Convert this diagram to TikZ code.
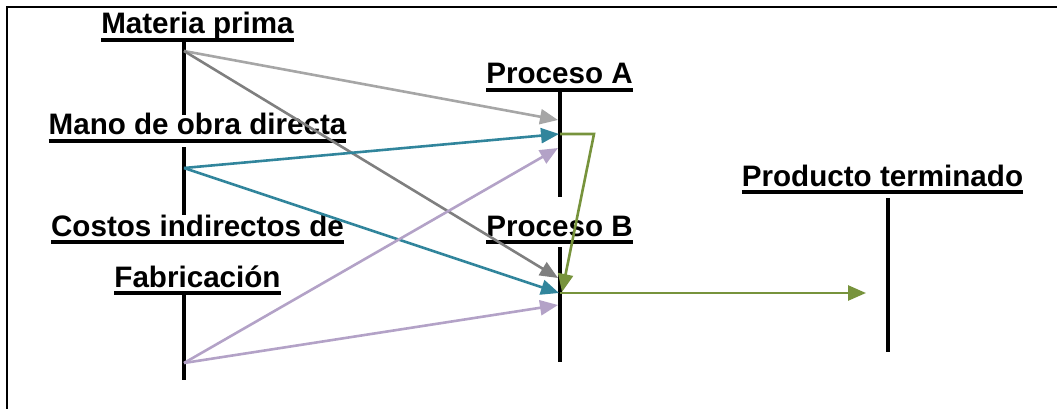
\documentclass[tikz,border=0pt]{standalone}
\usepackage{fontspec}
\setmainfont{Liberation Sans}
\usetikzlibrary{arrows.meta}
\definecolor{lgray}{HTML}{A6A6A6}
\definecolor{dgray}{HTML}{7F7F7F}
\definecolor{teal2}{HTML}{31859C}
\definecolor{lilac}{HTML}{B3A2C7}
\definecolor{olive2}{HTML}{77933C}
\begin{document}
\begin{tikzpicture}[x=1pt,y=-1pt,
  acct/.style={anchor=base,inner sep=0pt,outer sep=0pt,font=\fontsize{29.6}{31}\selectfont\bfseries},
  uline/.style={line width=3.8pt},
  tbar/.style={line width=4pt},
  conn/.style={line width=2.6pt,-{Triangle[length=18pt,width=15pt]}},
  frame/.style={line width=2.8pt}]
\useasboundingbox (0,0) rectangle (1057,409);
% frame
\draw[frame] (7,409) -- (7,7) -- (1057,7);
% account titles
\node[acct] (mp) at (197.5,34) {Materia prima};
\node[acct] (mod) at (197.5,135) {Mano de obra directa};
\node[acct] (cif1) at (197.5,236) {Costos indirectos de};
\node[acct] (cif) at (197.5,287) {Fabricación};
\node[acct] (pa) at (559.5,84) {Proceso A};
\node[acct] (pb) at (559.5,236) {Proceso B};
\node[acct] (pt) at (882.5,186) {Producto terminado};
% underlines
\foreach \n in {mp,mod,cif1,cif,pa,pb,pt}
  \draw[uline] ([yshift=-6pt]\n.base west) -- ([yshift=-6pt]\n.base east);
% T-account bars
\coordinate (mpT) at (184,40);  \coordinate (mpB) at (184,115);
\coordinate (modT) at (184,147); \coordinate (modB) at (184,215);
\coordinate (cifT) at (184,294); \coordinate (cifB) at (184,380);
\coordinate (paT) at (560,91);  \coordinate (paB) at (560,197);
\coordinate (pbT) at (560,247); \coordinate (pbB) at (560,362);
\coordinate (ptT) at (888,198); \coordinate (ptB) at (888,352);
\foreach \a/\b in {mpT/mpB,modT/modB,cifT/cifB,paT/paB,pbT/pbB,ptT/ptB}
  \draw[tbar] (\a) -- (\b);
% connector ends
\coordinate (mpS) at (184,51);
\coordinate (modS) at (184,168);
\coordinate (cifS) at (184,363);
\coordinate (paIn1) at (558,120);
\coordinate (paIn2) at (559,134);
\coordinate (paIn3) at (558,148);
\coordinate (paOut) at (560,134);
\coordinate (paK) at (594,134);
\coordinate (pbIn1) at (558,278);
\coordinate (pbIn2) at (559,293);
\coordinate (pbIn3) at (558,305);
\coordinate (pbIn4) at (562,292);
\coordinate (pbOut) at (560,293);
\coordinate (ptIn) at (866,293);
% connectors
\draw[conn,lgray] (mpS) -- (paIn1);
\draw[conn,dgray] (mpS) -- (pbIn1);
\draw[conn,teal2] (modS) -- (paIn2);
\draw[conn,teal2] (modS) -- (pbIn2);
\draw[conn,lilac] (cifS) -- (paIn3);
\draw[conn,lilac] (cifS) -- (pbIn3);
\draw[conn,olive2] (paOut) -- (paK) -- (pbIn4);
\draw[conn,olive2] (pbOut) -- (ptIn);
\end{tikzpicture}
\end{document}
